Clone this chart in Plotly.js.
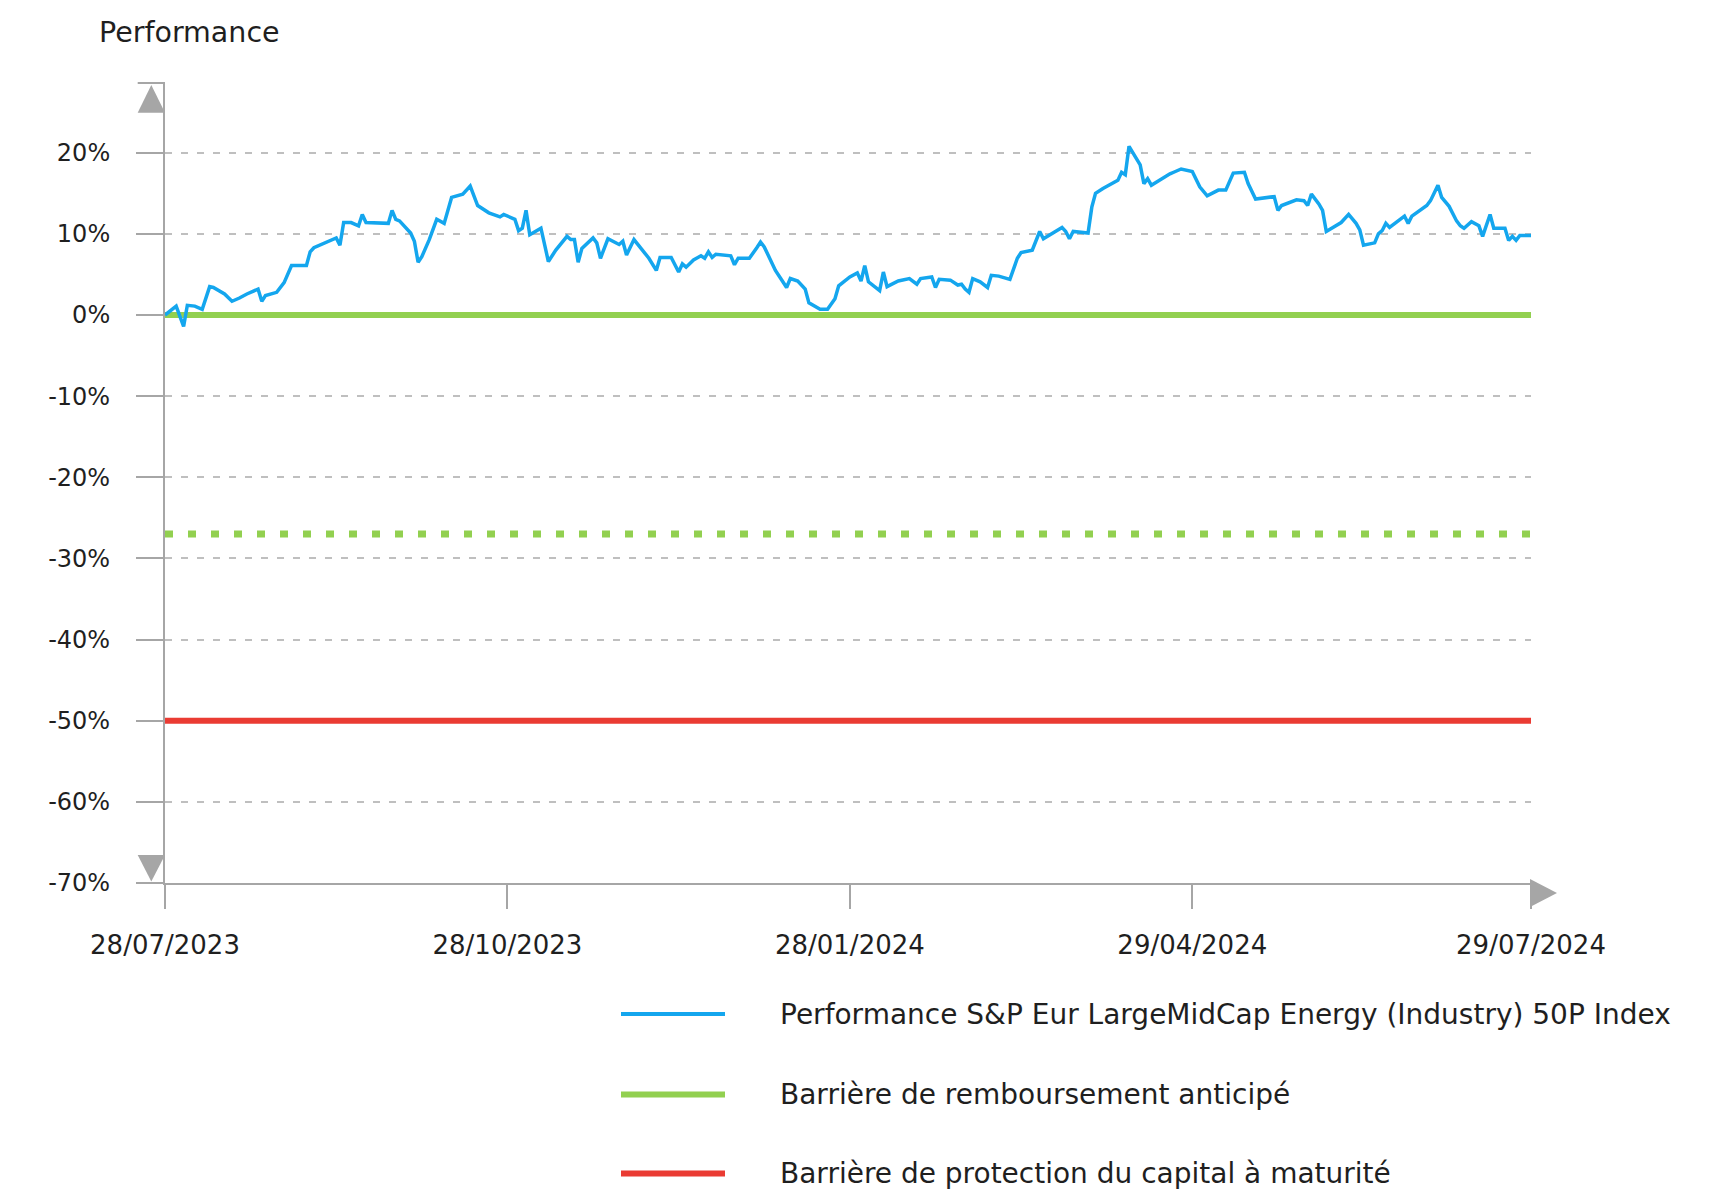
<!DOCTYPE html>
<html>
<head>
<meta charset="utf-8">
<script src="https://cdn.plot.ly/plotly-3.0.1.min.js"></script>
<style>
  html, body { margin: 0; padding: 0; background: #ffffff; }
  #chart { width: 1723px; height: 1193px; }
</style>
</head>
<body>
<div id="chart"></div>
<script>
// ---- Data ----
const perfDates = [
  '2023-07-28','2023-07-31','2023-08-02','2023-08-03','2023-08-05','2023-08-07','2023-08-09','2023-08-10',
  '2023-08-13','2023-08-15','2023-08-17','2023-08-19','2023-08-22','2023-08-23','2023-08-24','2023-08-27',
  '2023-08-29','2023-08-31','2023-09-04','2023-09-05','2023-09-06','2023-09-09','2023-09-12','2023-09-13',
  '2023-09-14','2023-09-16','2023-09-18','2023-09-19','2023-09-20','2023-09-26','2023-09-27','2023-09-28',
  '2023-09-29','2023-10-02','2023-10-03','2023-10-04','2023-10-05','2023-10-07','2023-10-09','2023-10-11',
  '2023-10-13','2023-10-16','2023-10-18','2023-10-20','2023-10-23','2023-10-26','2023-10-27','2023-10-30',
  '2023-10-31','2023-11-01','2023-11-02','2023-11-03','2023-11-06','2023-11-08','2023-11-10','2023-11-13',
  '2023-11-14','2023-11-15','2023-11-16','2023-11-17','2023-11-20','2023-11-21','2023-11-22','2023-11-24',
  '2023-11-27','2023-11-28','2023-11-29','2023-12-01','2023-12-03','2023-12-05','2023-12-07','2023-12-08',
  '2023-12-11','2023-12-13','2023-12-14','2023-12-15','2023-12-17','2023-12-19','2023-12-20','2023-12-21',
  '2023-12-22','2023-12-23','2023-12-27','2023-12-28','2023-12-29','2024-01-01','2024-01-03','2024-01-04',
  '2024-01-05','2024-01-08','2024-01-10','2024-01-11','2024-01-12','2024-01-14','2024-01-16','2024-01-17',
  '2024-01-20','2024-01-22','2024-01-24','2024-01-25','2024-01-28','2024-01-30','2024-01-31','2024-02-01',
  '2024-02-02','2024-02-05','2024-02-06','2024-02-07','2024-02-10','2024-02-13','2024-02-15','2024-02-16',
  '2024-02-19','2024-02-20','2024-02-21','2024-02-24','2024-02-26','2024-02-27','2024-02-28','2024-02-29',
  '2024-03-01','2024-03-03','2024-03-05','2024-03-06','2024-03-08','2024-03-11','2024-03-13','2024-03-14',
  '2024-03-17','2024-03-18','2024-03-19','2024-03-20','2024-03-22','2024-03-25','2024-03-26','2024-03-27',
  '2024-03-28','2024-04-01','2024-04-02','2024-04-03','2024-04-05','2024-04-09','2024-04-10','2024-04-11',
  '2024-04-12','2024-04-13','2024-04-15','2024-04-16','2024-04-17','2024-04-18','2024-04-20','2024-04-23',
  '2024-04-24','2024-04-26','2024-04-29','2024-05-01','2024-05-03','2024-05-06','2024-05-08','2024-05-10',
  '2024-05-13','2024-05-14','2024-05-16','2024-05-19','2024-05-21','2024-05-22','2024-05-23','2024-05-27',
  '2024-05-29','2024-05-30','2024-05-31','2024-06-02','2024-06-03','2024-06-04','2024-06-08','2024-06-10',
  '2024-06-12','2024-06-13','2024-06-14','2024-06-17','2024-06-18','2024-06-19','2024-06-20','2024-06-21',
  '2024-06-24','2024-06-25','2024-06-26','2024-06-27','2024-07-01','2024-07-02','2024-07-04','2024-07-05',
  '2024-07-07','2024-07-09','2024-07-10','2024-07-11','2024-07-13','2024-07-15','2024-07-16','2024-07-18',
  '2024-07-19','2024-07-22','2024-07-23','2024-07-24','2024-07-25','2024-07-26','2024-07-29'
];
const perfValues = [
  0.0, 1.1, -1.4, 1.2, 1.1, 0.7, 3.5, 3.4,
  2.6, 1.7, 2.1, 2.6, 3.2, 1.7, 2.4, 2.8,
  4.0, 6.1, 6.1, 7.8, 8.3, 8.9, 9.5, 8.6,
  11.4, 11.4, 11.0, 12.4, 11.4, 11.3, 12.9, 11.8,
  11.6, 10.1, 9.1, 6.5, 7.2, 9.3, 11.8, 11.3,
  14.5, 14.9, 15.9, 13.5, 12.6, 12.1, 12.4, 11.8,
  10.4, 10.7, 12.9, 9.9, 10.7, 6.6, 8.0, 9.7,
  9.3, 9.3, 6.5, 8.2, 9.5, 8.9, 7.0, 9.4,
  8.7, 9.1, 7.4, 9.3, 8.2, 7.0, 5.5, 7.1,
  7.1, 5.3, 6.3, 5.9, 6.8, 7.3, 7.0, 7.8,
  7.1, 7.5, 7.3, 6.2, 7.0, 7.0, 8.3, 9.0,
  8.4, 5.5, 4.1, 3.4, 4.5, 4.2, 3.2, 1.5,
  0.7, 0.7, 2.0, 3.6, 4.7, 5.2, 4.2, 6.1,
  4.1, 3.0, 5.3, 3.5, 4.2, 4.5, 3.8, 4.5,
  4.7, 3.4, 4.4, 4.3, 3.7, 3.8, 3.2, 2.8,
  4.5, 4.1, 3.4, 4.9, 4.8, 4.4, 7.0, 7.7,
  8.0, 9.1, 10.3, 9.4, 10.0, 10.8, 10.3, 9.4,
  10.3, 10.1, 13.3, 15.0, 15.6, 16.6, 17.6, 17.3,
  20.8, 20.0, 18.5, 16.2, 16.8, 16.0, 16.6, 17.4,
  17.6, 18.0, 17.7, 15.8, 14.7, 15.4, 15.4, 17.5,
  17.6, 16.2, 14.3, 14.5, 14.6, 12.9, 13.5, 14.2,
  14.1, 13.5, 14.9, 13.7, 12.9, 10.3, 11.4, 12.4,
  11.3, 10.5, 8.6, 8.9, 10.0, 10.4, 11.3, 10.8,
  11.8, 12.2, 11.3, 12.2, 13.5, 14.1, 16.0, 14.5,
  13.4, 11.6, 11.0, 10.7, 11.5, 11.0, 9.7, 12.4,
  10.7, 10.7, 9.2, 9.7, 9.2, 9.8, 9.8
];
const barrierDates = ['2023-07-28', '2024-07-29'];
const earlyRedemptionBarrier = [0, 0];
const couponBarrier = [-27, -27];
const capitalProtectionBarrier = [-50, -50];

const yTickValues = [-70, -60, -50, -40, -30, -20, -10, 0, 10, 20];
const yTickLabels = ['-70%', '-60%', '-50%', '-40%', '-30%', '-20%', '-10%', '0%', '10%', '20%'];
const xTickDates = ['2023-07-28', '2023-10-28', '2024-01-28', '2024-04-29', '2024-07-29'];
const xTickLabels = ['28/07/2023', '28/10/2023', '28/01/2024', '29/04/2024', '29/07/2024'];

const seriesNames = [
  'Performance S&P Eur LargeMidCap Energy (Industry) 50P Index',
  'Barrière de remboursement anticipé',
  'Barrière de protection du capital à maturité'
];
const chartTitle = 'Performance';

// ---- Styles ----
const FONT = '"DejaVu Sans", "Liberation Sans", sans-serif';
const TXT = '#1f1f1f';
const BLUE = '#14a6ee';
const GREEN = '#92d050';
const RED = '#ea3b33';
const AXIS = '#a6a6a6';
const GRID = '#bfbfbf';

const traces = [
  { x: barrierDates, y: earlyRedemptionBarrier, type: 'scatter', mode: 'lines',
    name: seriesNames[1], line: { color: GREEN, width: 6 }, hoverinfo: 'skip' },
  { x: barrierDates, y: couponBarrier, type: 'scatter', mode: 'lines',
    name: 'Barrière coupon', showlegend: false, line: { color: GREEN, width: 7, dash: '8px,15px' }, hoverinfo: 'skip' },
  { x: barrierDates, y: capitalProtectionBarrier, type: 'scatter', mode: 'lines',
    name: seriesNames[2], line: { color: RED, width: 6 }, hoverinfo: 'skip' },
  { x: perfDates, y: perfValues, type: 'scatter', mode: 'lines',
    name: seriesNames[0], line: { color: BLUE, width: 3.5 }, hoverinfo: 'skip' }
];

// pixel -> paper helpers for decorative shapes (plot area: x 165..1531, y 83..883)
const L = 165, T = 83, W = 1366, H = 800;
const px = v => (v - L) / W;
const py = v => (T + H - v) / H;

const shapes = [
  { type: 'path', xref: 'paper', yref: 'paper',
    path: `M${px(137.7)},${py(112.7)} L${px(151.3)},${py(85)} L${px(165)},${py(112.7)} Z`,
    fillcolor: AXIS, line: { width: 0 } },
  { type: 'path', xref: 'paper', yref: 'paper',
    path: `M${px(137.7)},${py(855)} L${px(151.3)},${py(881.5)} L${px(165)},${py(855)} Z`,
    fillcolor: AXIS, line: { width: 0 } },
  { type: 'path', xref: 'paper', yref: 'paper',
    path: `M${px(1530)},${py(879)} L${px(1557)},${py(893)} L${px(1530)},${py(907)} Z`,
    fillcolor: AXIS, line: { width: 0 } },
  { type: 'line', xref: 'paper', yref: 'paper', x0: px(137.7), x1: 0, y0: 1, y1: 1,
    line: { color: AXIS, width: 2 } }
];

// legend (drawn manually to match the wide layout)
const legendColors = [BLUE, GREEN, RED];
const legendWidths = [4, 6, 6];
const legendRowsY = [1014, 1094.5, 1173.5];
const annotations = [];
for (let i = 0; i < 3; i++) {
  shapes.push({ type: 'line', xref: 'paper', yref: 'paper',
    x0: px(621), x1: px(725), y0: py(legendRowsY[i]), y1: py(legendRowsY[i]),
    line: { color: legendColors[i], width: legendWidths[i] } });
  annotations.push({ xref: 'paper', yref: 'paper', x: px(778), y: py(legendRowsY[i]),
    xanchor: 'left', yanchor: 'middle', showarrow: false, text: seriesNames[i],
    font: { family: FONT, size: 28, color: TXT } });
}

const layout = {
  width: 1723, height: 1193,
  margin: { l: 165, r: 192, t: 83, b: 310, pad: 0 },
  paper_bgcolor: '#ffffff', plot_bgcolor: '#ffffff',
  showlegend: false,
  title: { text: chartTitle, xref: 'container', yref: 'container',
    x: 99 / 1723, xanchor: 'left', y: 1 - 32 / 1193, yanchor: 'middle',
    font: { family: FONT, size: 28.5, color: TXT } },
  xaxis: {
    type: 'date', range: ['2023-07-28', '2024-07-29'],
    tickmode: 'array', tickvals: xTickDates, ticktext: xTickLabels,
    showline: true, linecolor: AXIS, linewidth: 2,
    ticks: 'outside', ticklen: 24, tickwidth: 2, tickcolor: AXIS,
    ticklabelstandoff: 14,
    showgrid: false, zeroline: false, fixedrange: true,
    tickfont: { family: FONT, size: 26, color: TXT }
  },
  yaxis: {
    range: [-70, 28.6], tickmode: 'array', tickvals: yTickValues, ticktext: yTickLabels,
    showline: true, linecolor: AXIS, linewidth: 2,
    ticks: 'outside', ticklen: 27, tickwidth: 2, tickcolor: AXIS,
    ticklabelstandoff: 21,
    showgrid: true, gridcolor: GRID, gridwidth: 2, griddash: '7px,9px',
    zeroline: false, fixedrange: true,
    tickfont: { family: FONT, size: 24, color: TXT }
  },
  shapes: shapes,
  annotations: annotations
};

Plotly.newPlot('chart', traces, layout, { displayModeBar: false, staticPlot: true });
</script>
</body>
</html>
